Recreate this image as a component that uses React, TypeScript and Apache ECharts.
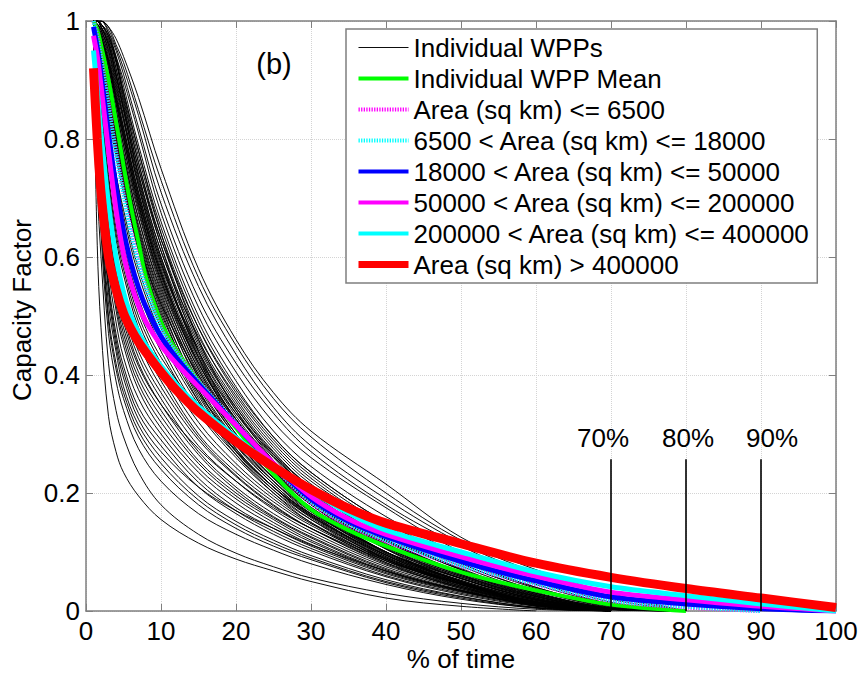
import React, { useEffect, useRef } from "react";
import * as echarts from "echarts";

const FONT = "'Liberation Sans', Arial, Helvetica, sans-serif";

// x positions (% of time) for the individual WPP duration curves
const wppX = [1, 1.5, 2, 3, 4, 5, 7, 10, 15, 20, 25, 30, 40, 50, 60, 70, 80];

// Individual WPP capacity-factor duration curves
const wppCurves: number[][] = [
  [1, 1, 1, 0.99, 0.97, 0.94, 0.87, 0.75, 0.58, 0.46, 0.37, 0.305, 0.215, 0.125, 0.07, 0.03, 0],
  [1, 1, 1, 0.99, 0.96, 0.93, 0.85, 0.73, 0.565, 0.45, 0.36, 0.295, 0.2, 0.12, 0.065, 0.025, 0],
  [1, 1, 1, 0.985, 0.955, 0.92, 0.84, 0.71, 0.55, 0.435, 0.345, 0.28, 0.19, 0.115, 0.06, 0.02, 0],
  [1, 1, 0.995, 0.98, 0.95, 0.91, 0.82, 0.69, 0.53, 0.42, 0.335, 0.27, 0.18, 0.11, 0.055, 0.015, 0],
  [1, 1, 0.995, 0.975, 0.94, 0.9, 0.81, 0.675, 0.515, 0.405, 0.32, 0.26, 0.175, 0.1, 0.05, 0.012, 0],
  [1, 1, 1, 0.98, 0.94, 0.89, 0.79, 0.66, 0.5, 0.39, 0.305, 0.245, 0.16, 0.095, 0.045, 0.012, 0],
  [1, 1, 0.995, 0.975, 0.935, 0.88, 0.78, 0.65, 0.49, 0.38, 0.295, 0.235, 0.15, 0.088, 0.04, 0.01, 0],
  [1, 1, 0.995, 0.97, 0.93, 0.875, 0.77, 0.64, 0.48, 0.37, 0.29, 0.23, 0.145, 0.085, 0.038, 0.008, 0],
  [1, 1, 0.99, 0.965, 0.92, 0.865, 0.76, 0.63, 0.47, 0.36, 0.28, 0.22, 0.14, 0.08, 0.035, 0.006, 0],
  [1, 1, 0.99, 0.96, 0.91, 0.855, 0.75, 0.62, 0.46, 0.355, 0.275, 0.215, 0.135, 0.076, 0.032, 0.005, 0],
  [1, 0.995, 0.985, 0.955, 0.905, 0.85, 0.74, 0.61, 0.455, 0.35, 0.27, 0.21, 0.13, 0.072, 0.03, 0.004, 0],
  [1, 0.995, 0.985, 0.95, 0.9, 0.84, 0.73, 0.6, 0.45, 0.345, 0.265, 0.205, 0.125, 0.07, 0.03, 0.005, 0],
  [1, 0.995, 0.98, 0.945, 0.89, 0.835, 0.725, 0.595, 0.44, 0.335, 0.26, 0.2, 0.12, 0.066, 0.028, 0.004, 0],
  [1, 0.99, 0.98, 0.94, 0.885, 0.83, 0.72, 0.59, 0.435, 0.33, 0.255, 0.198, 0.118, 0.064, 0.026, 0.003, 0],
  [1, 0.99, 0.975, 0.935, 0.875, 0.82, 0.71, 0.58, 0.43, 0.325, 0.25, 0.195, 0.115, 0.062, 0.025, 0.003, 0],
  [1, 0.99, 0.97, 0.93, 0.87, 0.81, 0.7, 0.575, 0.42, 0.32, 0.245, 0.19, 0.112, 0.06, 0.024, 0.002, 0],
  [1, 0.985, 0.965, 0.92, 0.86, 0.8, 0.695, 0.57, 0.415, 0.315, 0.24, 0.185, 0.108, 0.058, 0.022, 0.002, 0],
  [1, 0.985, 0.96, 0.91, 0.85, 0.79, 0.685, 0.56, 0.41, 0.31, 0.236, 0.18, 0.105, 0.055, 0.02, 0],
  [1, 0.98, 0.955, 0.9, 0.84, 0.78, 0.675, 0.55, 0.4, 0.3, 0.23, 0.175, 0.1, 0.052, 0.018, 0],
  [1, 0.98, 0.95, 0.89, 0.83, 0.77, 0.665, 0.54, 0.395, 0.295, 0.225, 0.17, 0.097, 0.05, 0.016, 0],
  [1, 0.975, 0.94, 0.88, 0.82, 0.76, 0.65, 0.53, 0.385, 0.29, 0.22, 0.165, 0.094, 0.048, 0.015, 0],
  [1, 0.97, 0.93, 0.87, 0.81, 0.75, 0.64, 0.52, 0.375, 0.28, 0.215, 0.162, 0.09, 0.045, 0.013, 0],
  [1, 0.965, 0.92, 0.86, 0.8, 0.74, 0.63, 0.51, 0.37, 0.275, 0.21, 0.158, 0.088, 0.043, 0.012, 0],
  [1, 0.96, 0.91, 0.85, 0.79, 0.73, 0.62, 0.5, 0.36, 0.27, 0.205, 0.155, 0.085, 0.04, 0.01, 0],
  [1, 0.955, 0.9, 0.84, 0.78, 0.72, 0.61, 0.49, 0.355, 0.265, 0.2, 0.15, 0.082, 0.038, 0.008, 0],
  [1, 1, 0.99, 0.97, 0.93, 0.87, 0.76, 0.62, 0.44, 0.32, 0.24, 0.18, 0.1, 0.05, 0.015, 0],
  [1, 0.97, 0.92, 0.84, 0.77, 0.71, 0.62, 0.52, 0.4, 0.31, 0.245, 0.195, 0.12, 0.065, 0.025, 0.004, 0],
  [1, 0.99, 0.97, 0.92, 0.86, 0.8, 0.69, 0.56, 0.42, 0.325, 0.255, 0.2, 0.12, 0.062, 0.022, 0],
  [1, 1, 0.99, 0.96, 0.91, 0.85, 0.735, 0.6, 0.43, 0.31, 0.23, 0.17, 0.095, 0.045, 0.012, 0],
  [1, 0.95, 0.89, 0.81, 0.74, 0.68, 0.58, 0.48, 0.37, 0.29, 0.225, 0.175, 0.1, 0.052, 0.018, 0],
  [1, 0.94, 0.87, 0.76, 0.67, 0.6, 0.51, 0.43, 0.345, 0.28, 0.22, 0.17, 0.1, 0.055, 0.02, 0],
  [0.99, 0.89, 0.79, 0.64, 0.55, 0.49, 0.415, 0.35, 0.275, 0.22, 0.175, 0.14, 0.085, 0.045, 0.015, 0],
  [0.97, 0.82, 0.7, 0.54, 0.45, 0.395, 0.325, 0.27, 0.21, 0.17, 0.14, 0.112, 0.068, 0.035, 0.01, 0],
  [1, 1, 0.995, 0.975, 0.935, 0.88, 0.78, 0.64, 0.46, 0.34, 0.255, 0.19, 0.105, 0.05, 0.015, 0],
  [1, 0.99, 0.97, 0.93, 0.87, 0.81, 0.7, 0.57, 0.43, 0.335, 0.265, 0.21, 0.13, 0.07, 0.028, 0.004, 0],
  [1, 1, 0.99, 0.965, 0.92, 0.86, 0.75, 0.63, 0.48, 0.375, 0.295, 0.235, 0.15, 0.088, 0.04, 0.01, 0],
  [1, 1, 0.99, 0.96, 0.91, 0.85, 0.74, 0.61, 0.465, 0.365, 0.285, 0.225, 0.14, 0.08, 0.035, 0.007, 0],
  [1, 0.995, 0.985, 0.95, 0.895, 0.835, 0.72, 0.59, 0.445, 0.345, 0.268, 0.21, 0.128, 0.07, 0.03, 0.005, 0],
  [1, 0.99, 0.975, 0.935, 0.88, 0.82, 0.71, 0.585, 0.44, 0.34, 0.262, 0.205, 0.122, 0.066, 0.027, 0.004, 0],
  [1, 0.99, 0.975, 0.93, 0.87, 0.815, 0.705, 0.575, 0.425, 0.325, 0.25, 0.193, 0.113, 0.06, 0.024, 0.003, 0],
  [1, 0.99, 0.97, 0.925, 0.865, 0.805, 0.69, 0.565, 0.42, 0.32, 0.245, 0.19, 0.11, 0.058, 0.022, 0],
  [1, 0.985, 0.96, 0.91, 0.85, 0.79, 0.68, 0.555, 0.41, 0.315, 0.242, 0.186, 0.108, 0.056, 0.02, 0],
  [1, 0.98, 0.955, 0.9, 0.84, 0.775, 0.665, 0.545, 0.405, 0.31, 0.238, 0.183, 0.106, 0.055, 0.019, 0],
  [1, 0.98, 0.95, 0.895, 0.83, 0.765, 0.655, 0.535, 0.395, 0.3, 0.23, 0.176, 0.1, 0.05, 0.016, 0],
  [1, 0.975, 0.94, 0.885, 0.82, 0.755, 0.645, 0.525, 0.39, 0.295, 0.226, 0.173, 0.098, 0.048, 0.014, 0],
  [1, 0.97, 0.93, 0.87, 0.805, 0.745, 0.635, 0.515, 0.38, 0.288, 0.22, 0.168, 0.095, 0.047, 0.014, 0],
  [1, 0.965, 0.92, 0.86, 0.795, 0.735, 0.625, 0.505, 0.375, 0.283, 0.215, 0.164, 0.092, 0.045, 0.013, 0],
  [1, 0.96, 0.91, 0.85, 0.785, 0.725, 0.615, 0.495, 0.365, 0.275, 0.21, 0.16, 0.088, 0.042, 0.011, 0],
  [1, 0.95, 0.89, 0.81, 0.74, 0.67, 0.57, 0.47, 0.355, 0.272, 0.21, 0.162, 0.092, 0.046, 0.014, 0],
  [1, 0.96, 0.9, 0.8, 0.71, 0.64, 0.55, 0.46, 0.35, 0.27, 0.21, 0.165, 0.1, 0.055, 0.02, 0],
  [1, 0.95, 0.89, 0.78, 0.7, 0.63, 0.54, 0.45, 0.34, 0.265, 0.205, 0.16, 0.095, 0.05, 0.018, 0],
  [1, 0.95, 0.88, 0.77, 0.68, 0.62, 0.53, 0.44, 0.335, 0.26, 0.2, 0.155, 0.09, 0.048, 0.016, 0],
  [1, 0.94, 0.86, 0.74, 0.65, 0.59, 0.5, 0.42, 0.32, 0.25, 0.195, 0.15, 0.088, 0.046, 0.015, 0],
  [1, 0.93, 0.85, 0.73, 0.64, 0.58, 0.49, 0.41, 0.31, 0.243, 0.19, 0.148, 0.087, 0.046, 0.016, 0],
  [1, 0.93, 0.85, 0.72, 0.63, 0.57, 0.48, 0.4, 0.3, 0.235, 0.185, 0.145, 0.085, 0.045, 0.015, 0],
  [1, 0.92, 0.83, 0.7, 0.61, 0.55, 0.465, 0.39, 0.295, 0.23, 0.18, 0.14, 0.08, 0.04, 0.012, 0],
  [1, 0.92, 0.82, 0.69, 0.6, 0.54, 0.455, 0.38, 0.29, 0.228, 0.178, 0.14, 0.082, 0.042, 0.013, 0],
  [1, 0.91, 0.81, 0.67, 0.58, 0.52, 0.44, 0.37, 0.28, 0.22, 0.172, 0.135, 0.078, 0.04, 0.012, 0],
  [0.99, 0.9, 0.8, 0.66, 0.57, 0.51, 0.43, 0.36, 0.27, 0.21, 0.165, 0.13, 0.075, 0.038, 0.011, 0],
  [0.99, 0.9, 0.79, 0.65, 0.56, 0.5, 0.42, 0.35, 0.265, 0.205, 0.16, 0.126, 0.072, 0.036, 0.01, 0],
  [0.99, 0.89, 0.78, 0.63, 0.54, 0.48, 0.405, 0.34, 0.255, 0.2, 0.158, 0.124, 0.07, 0.035, 0.01, 0],
  [0.99, 0.88, 0.77, 0.62, 0.53, 0.47, 0.395, 0.33, 0.25, 0.195, 0.155, 0.12, 0.068, 0.034, 0.01, 0],
  [0.99, 0.87, 0.76, 0.61, 0.52, 0.46, 0.385, 0.32, 0.242, 0.19, 0.15, 0.117, 0.067, 0.034, 0.01, 0],
  [0.98, 0.86, 0.75, 0.6, 0.51, 0.45, 0.375, 0.31, 0.235, 0.183, 0.145, 0.113, 0.065, 0.033, 0.01, 0],
  [0.98, 0.85, 0.74, 0.58, 0.49, 0.43, 0.36, 0.3, 0.225, 0.175, 0.14, 0.11, 0.063, 0.032, 0.01, 0],
  [0.98, 0.84, 0.72, 0.56, 0.47, 0.415, 0.345, 0.29, 0.218, 0.17, 0.135, 0.106, 0.06, 0.03, 0.009, 0],
  [0.97, 0.83, 0.71, 0.55, 0.46, 0.405, 0.335, 0.28, 0.21, 0.165, 0.13, 0.102, 0.058, 0.028, 0.008, 0],
  [0.97, 0.81, 0.68, 0.52, 0.44, 0.38, 0.315, 0.26, 0.195, 0.152, 0.12, 0.094, 0.053, 0.025, 0.006, 0],
  [0.96, 0.8, 0.67, 0.5, 0.42, 0.37, 0.305, 0.25, 0.188, 0.146, 0.115, 0.09, 0.05, 0.024, 0.006, 0],
  [0.96, 0.8, 0.66, 0.49, 0.41, 0.36, 0.295, 0.24, 0.18, 0.14, 0.11, 0.087, 0.048, 0.022, 0.005, 0],
  [0.95, 0.78, 0.64, 0.47, 0.39, 0.34, 0.275, 0.22, 0.165, 0.13, 0.103, 0.08, 0.045, 0.02, 0.005, 0],
  [0.95, 0.72, 0.6, 0.42, 0.34, 0.295, 0.235, 0.18, 0.13, 0.098, 0.075, 0.056, 0.03, 0.013, 0.003, 0],
  [0.93, 0.62, 0.48, 0.33, 0.27, 0.235, 0.195, 0.155, 0.115, 0.088, 0.068, 0.05, 0.022, 0.008, 0],
];

// x positions for the mean / area-group curves
const meanX = [1, 1.5, 2, 3, 4, 5, 6, 7, 8, 10, 12, 15, 20, 25, 30, 35, 40, 50, 60, 70, 80, 90, 100];

const wppMean = [1, 0.985, 0.96, 0.9, 0.83, 0.755, 0.685, 0.625, 0.565, 0.49, 0.443, 0.39, 0.31, 0.232, 0.172, 0.137, 0.11, 0.066, 0.035, 0.011, 0];
const area6500 = [1, 0.975, 0.94, 0.86, 0.78, 0.71, 0.645, 0.592, 0.55, 0.48, 0.44, 0.39, 0.318, 0.245, 0.183, 0.145, 0.118, 0.076, 0.045, 0.017, 0.006, 0];
const area18000 = [1, 0.97, 0.935, 0.855, 0.775, 0.705, 0.64, 0.588, 0.547, 0.478, 0.438, 0.389, 0.318, 0.246, 0.185, 0.147, 0.12, 0.077, 0.046, 0.018, 0.007, 0];
const area50000 = [0.99, 0.955, 0.91, 0.81, 0.72, 0.645, 0.59, 0.548, 0.515, 0.465, 0.43, 0.385, 0.315, 0.248, 0.19, 0.152, 0.126, 0.084, 0.051, 0.024, 0.012, 0.004, 0];
const area200000 = [0.975, 0.94, 0.89, 0.78, 0.68, 0.605, 0.555, 0.518, 0.49, 0.45, 0.42, 0.38, 0.315, 0.25, 0.194, 0.156, 0.13, 0.092, 0.059, 0.032, 0.019, 0.008, 0];
const area400000 = [0.95, 0.88, 0.81, 0.69, 0.6, 0.54, 0.5, 0.472, 0.45, 0.415, 0.385, 0.347, 0.294, 0.246, 0.203, 0.166, 0.137, 0.1, 0.066, 0.041, 0.026, 0.012, 0];
const areaOver400000 = [0.92, 0.8, 0.71, 0.6, 0.545, 0.505, 0.478, 0.456, 0.438, 0.405, 0.375, 0.337, 0.287, 0.244, 0.206, 0.174, 0.149, 0.114, 0.081, 0.057, 0.038, 0.022, 0.006];

const legendNames = [
  "Individual WPPs",
  "Individual WPP Mean",
  "Area (sq km) <= 6500",
  "6500 < Area (sq km) <= 18000",
  "18000 < Area (sq km) <= 50000",
  "50000 < Area (sq km) <= 200000",
  "200000 < Area (sq km) <= 400000",
  "Area (sq km) > 400000",
];

const markerX = [70, 80, 90];
const markerTop = 0.257;
const markerText = ["70%", "80%", "90%"];

const xTicks = { min: 0, max: 100, interval: 10 };
const yTicks = { min: 0, max: 1, interval: 0.2 };

export default function App() {
  const ref = useRef<HTMLDivElement>(null);

  useEffect(() => {
    document.body.style.margin = "0";
    document.body.style.overflow = "hidden";
    if (!ref.current) return;
    const chart = echarts.init(ref.current, null, { renderer: "svg" });

    const pair = (xsArr: number[], vals: number[]) => vals.map((v, i) => [xsArr[i], v]);

    const black = wppCurves.map((vals) => ({
      type: "line",
      name: legendNames[0],
      data: pair(wppX, vals),
      smooth: 0.35,
      symbol: "none",
      silent: true,
      lineStyle: { color: "#000", width: 1, opacity: 0.95 },
      itemStyle: { color: "#000" },
    }));

    const colored = [
      { name: legendNames[1], vals: wppMean, color: "#00ff00", width: 4, type: "solid" },
      { name: legendNames[2], vals: area6500, color: "#ff00ff", width: 4, type: [1.3, 1.3] },
      { name: legendNames[3], vals: area18000, color: "#00ffff", width: 4, type: [1.3, 1.3] },
      { name: legendNames[4], vals: area50000, color: "#0000ff", width: 5, type: "solid" },
      { name: legendNames[5], vals: area200000, color: "#ff00ff", width: 5, type: "solid" },
      { name: legendNames[6], vals: area400000, color: "#00ffff", width: 5, type: "solid" },
      { name: legendNames[7], vals: areaOver400000, color: "#ff0000", width: 9, type: "solid" },
    ].map((c) => ({
      type: "line",
      name: c.name,
      data: pair(meanX, c.vals),
      smooth: 0.3,
      symbol: "none",
      silent: true,
      lineStyle: { color: c.color, width: c.width, type: c.type },
      itemStyle: { color: c.color },
    }));

    const shifts = [-8, 2, 11];
    const markers = markerX.map((x, i) => ({
      type: "line",
      name: "marker" + i,
      data: [
        [x, 0],
        {
          value: [x, markerTop],
          label: {
            show: true,
            formatter: markerText[i],
            position: "top",
            distance: 8,
            offset: [shifts[i], 0],
            fontSize: 26,
            fontFamily: FONT,
            color: "#000",
          },
        },
      ],
      symbol: "circle",
      symbolSize: 0,
      silent: true,
      lineStyle: { color: "#000", width: 1.6 },
      itemStyle: { color: "#000" },
      z: 3,
    }));

    const legendStyles = [
      { color: "#000", width: 1, type: "solid" },
      { color: "#00ff00", width: 4, type: "solid" },
      { color: "#ff00ff", width: 4, type: [1.3, 1.3] },
      { color: "#00ffff", width: 4, type: [1.3, 1.3] },
      { color: "#0000ff", width: 4, type: "solid" },
      { color: "#ff00ff", width: 4, type: "solid" },
      { color: "#00ffff", width: 4, type: "solid" },
      { color: "#ff0000", width: 7, type: "solid" },
    ];

    const axisGray = "#7f7f7f";
    const tick = { inside: true, length: 7, lineStyle: { color: axisGray, width: 1 } };
    const line = { show: true, onZero: false, lineStyle: { color: axisGray, width: 1.5 } };

    chart.setOption({
      animation: false,
      backgroundColor: "#fff",
      textStyle: { fontFamily: FONT },
      grid: { left: 86, right: 26, top: 21, bottom: 64, containLabel: false },
      legend: {
        left: 346,
        top: 29,
        orient: "vertical",
        selectedMode: false,
        backgroundColor: "#fff",
        borderColor: axisGray,
        borderWidth: 1.5,
        borderRadius: 0,
        padding: [3, 7, 3, 9],
        itemWidth: 50,
        itemHeight: 14,
        itemGap: 0,
        textStyle: { fontSize: 26, lineHeight: 31, fontFamily: FONT, color: "#000" },
        data: legendNames.map((n, i) => ({
          name: n,
          lineStyle: legendStyles[i],
          itemStyle: { color: legendStyles[i].color, opacity: 0 },
        })),
      },
      xAxis: [
        {
          type: "value",
          ...xTicks,
          position: "bottom",
          axisLine: line,
          axisTick: tick,
          axisLabel: { fontSize: 26, fontFamily: FONT, color: "#000", margin: 7 },
          splitLine: { show: true, lineStyle: { color: "#d4d4d4", type: "dotted", width: 1 } },
        },
        {
          type: "value",
          ...xTicks,
          position: "top",
          axisLine: line,
          axisTick: tick,
          axisLabel: { show: false },
          splitLine: { show: false },
        },
      ],
      yAxis: [
        {
          type: "value",
          ...yTicks,
          position: "left",
          axisLine: line,
          axisTick: tick,
          axisLabel: { fontSize: 26, fontFamily: FONT, color: "#000", margin: 6 },
          splitLine: { show: true, lineStyle: { color: "#d4d4d4", type: "dotted", width: 1 } },
        },
        {
          type: "value",
          ...yTicks,
          position: "right",
          axisLine: line,
          axisTick: tick,
          axisLabel: { show: false },
          splitLine: { show: false },
        },
      ],
      graphic: [
        {
          type: "text",
          x: 22,
          y: 310,
          rotation: Math.PI / 2,
          style: {
            text: "Capacity Factor",
            font: `26px ${FONT}`,
            fill: "#000",
            textAlign: "center",
            textVerticalAlign: "middle",
            align: "center",
            verticalAlign: "middle",
          },
        },
        {
          type: "text",
          x: 461,
          y: 659,
          style: {
            text: "% of time",
            font: `26px ${FONT}`,
            fill: "#000",
            textAlign: "center",
            textVerticalAlign: "middle",
            align: "center",
            verticalAlign: "middle",
          },
        },
        {
          type: "text",
          x: 274,
          y: 64,
          style: {
            text: "(b)",
            font: `29px ${FONT}`,
            fill: "#000",
            textAlign: "center",
            textVerticalAlign: "middle",
            align: "center",
            verticalAlign: "middle",
          },
        },
      ],
      series: [...black, ...colored, ...markers],
    });

    return () => chart.dispose();
  }, []);

  return <div ref={ref} style={{ width: 862, height: 675 }} />;
}
